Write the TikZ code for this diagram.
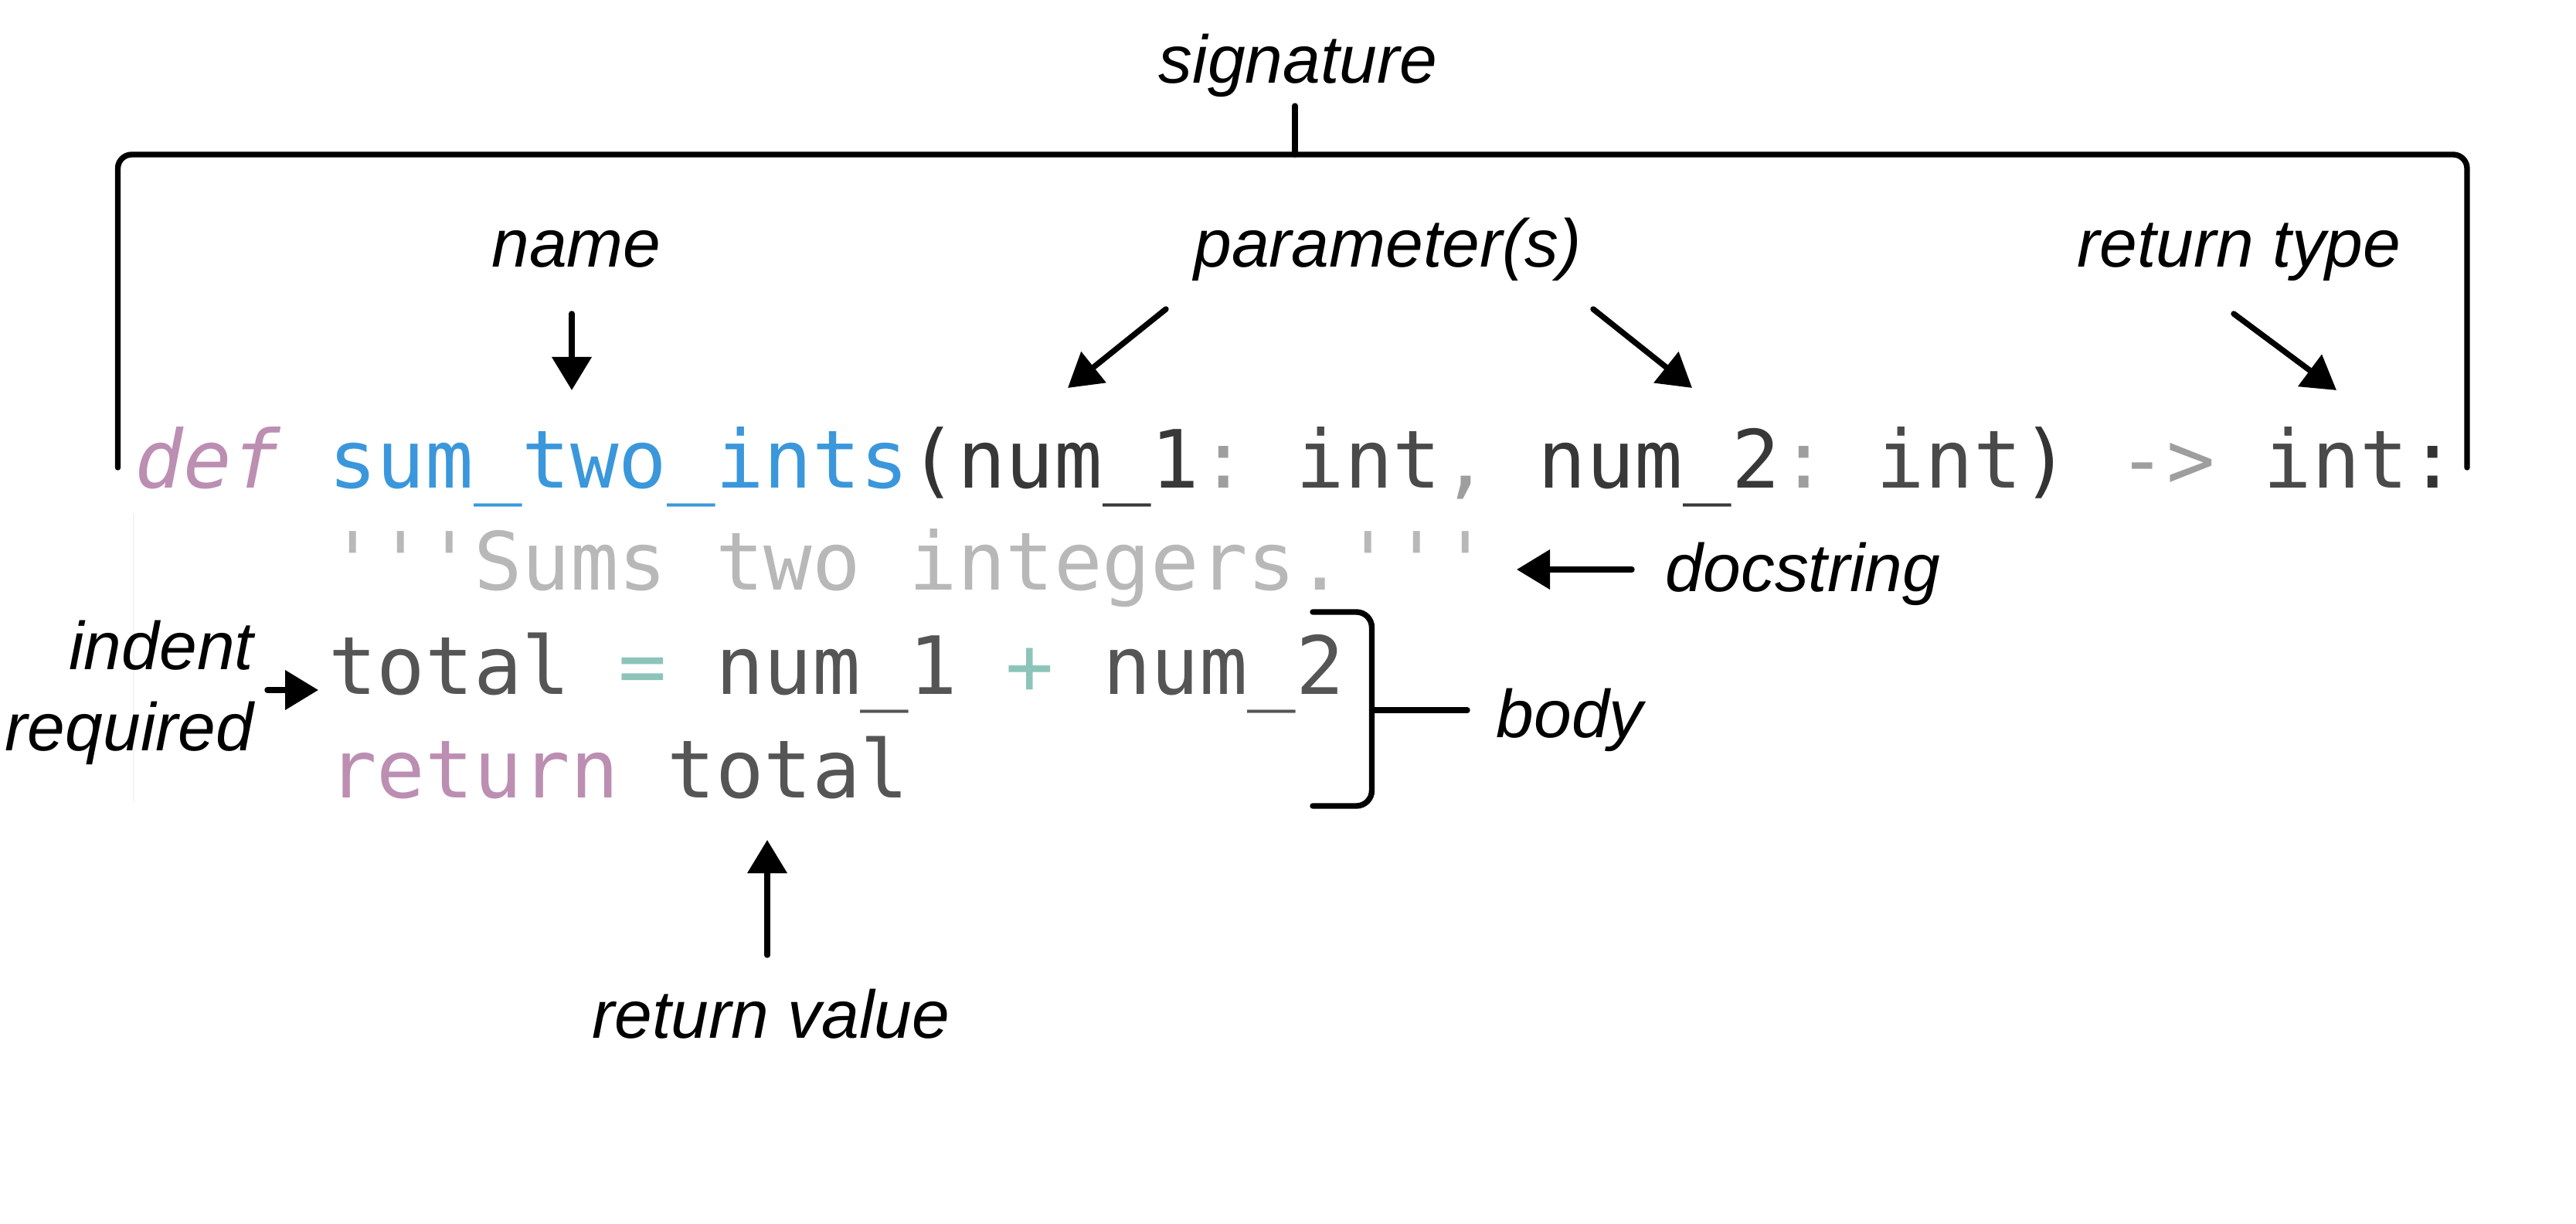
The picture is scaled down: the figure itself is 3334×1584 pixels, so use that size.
\documentclass[tikz,border=0pt]{standalone}
\usepackage{fontspec}
\setmainfont{Liberation Sans}
\newfontfamily\codefont{DejaVu Sans Mono}[Ligatures=TeXOff]
\usetikzlibrary{arrows.meta}
\definecolor{kw}{RGB}{188,142,178}
\definecolor{fn}{RGB}{59,151,219}
\definecolor{paren}{RGB}{51,51,51}
\definecolor{param}{RGB}{56,56,56}
\definecolor{typ}{RGB}{74,74,74}
\definecolor{txt}{RGB}{85,85,85}
\definecolor{punct}{RGB}{158,158,158}
\definecolor{doc}{RGB}{184,184,184}
\definecolor{op}{RGB}{140,196,186}
\definecolor{guide}{RGB}{244,244,244}
\begin{document}
\begin{tikzpicture}[x=0.25pt,y=-0.25pt,
  lbl/.style={font=\fontsize{21.9}{26}\selectfont\itshape, inner sep=0pt},
  code/.style={font=\codefont\fontsize{26}{30}\selectfont\frenchspacing, inner sep=0pt, anchor=base west},
  conn/.style={line width=1.85pt, line cap=round, draw=black},
  arr/.style={conn, -{Triangle[length=10.75pt,width=12.5pt]}},
  brk/.style={line width=1.85pt, line cap=round, line join=round, draw=black}]
\fill[white] (0,0) rectangle (3334,1584);
\useasboundingbox (0,0) rectangle (3334,1584);

% faint editor guide
\draw[line width=0.4pt, draw=guide] (173,664) -- (173,1037);

% code
\node[code] (line1) at (174,631) {{\color{kw}\itshape def} {\color{fn}sum\_two\_ints}{\color{paren}(}{\color{param}num\_1}{\color{punct}:} {\color{typ}int}{\color{punct},} {\color{param}num\_2}{\color{punct}:} {\color{typ}int}{\color{paren})} {\color{punct}->} {\color{typ}int}{\color{paren}:}};
\node[code] (line2) at (424.4,763) {\color{doc}'''Sums two integers.'''};
\node[code] (line3) at (424.4,898) {{\color{txt}total} {\color{op}=} {\color{txt}num\_1} {\color{op}+} {\color{txt}num\_2}};
\node[code] (line4) at (424.4,1032) {{\color{kw}return} {\color{txt}total}};

% labels
\node[lbl, anchor=base] (sig) at (1680,108) {signature};
\node[lbl, anchor=base] (name) at (746,346) {name};
\node[lbl, anchor=base] (param) at (1796,346) {parameter(s)};
\node[lbl, anchor=base] (rettype) at (2898,346) {return type};
\node[lbl, anchor=base west] (doc) at (2155,765) {docstring};
\node[lbl, anchor=base west] (body) at (1936,954) {body};
\node[lbl, anchor=base east] (indent) at (329,866) {indent};
\node[lbl, anchor=base east] (required) at (329,971) {required};
\node[lbl, anchor=base] (retval) at (998,1343) {return value};

% coordinates
\coordinate (sigL) at (152.5,605);
\coordinate (sigR) at (3193,605);
\coordinate (sigTop) at (1676,200);
\coordinate (sigTick) at (1676,137);
\coordinate (bodyTop) at (1699,792);
\coordinate (bodyBot) at (1699,1043);
\coordinate (bodyMid) at (1775.5,919);
\coordinate (bodyTick) at (1899,919);
\coordinate (nameT) at (740,406);
\coordinate (nameH) at (740,505);
\coordinate (parLT) at (1509,400);
\coordinate (parLH) at (1382,502);
\coordinate (parRT) at (2062,400);
\coordinate (parRH) at (2190,502);
\coordinate (retT) at (2891,406);
\coordinate (retH) at (3024,505);
\coordinate (docT) at (2112,737);
\coordinate (docH) at (1963,737);
\coordinate (indT) at (346,893);
\coordinate (indH) at (412,893);
\coordinate (rvT) at (993,1236);
\coordinate (rvH) at (993,1087);

% signature bracket
\draw[brk, rounded corners=4.5pt] (sigL) |- (sigTop) -| (sigR);
\draw[conn] (sigTop) -- (sigTick);

% body bracket
\draw[brk, rounded corners=5pt] (bodyTop) -| (bodyMid) |- (bodyBot);
\draw[conn] (bodyMid) -- (bodyTick);

% arrows
\draw[arr] (nameT) -- (nameH);
\draw[arr] (parLT) -- (parLH);
\draw[arr] (parRT) -- (parRH);
\draw[arr] (retT) -- (retH);
\draw[arr] (docT) -- (docH);
\draw[arr] (indT) -- (indH);
\draw[arr] (rvT) -- (rvH);
\end{tikzpicture}
\end{document}
